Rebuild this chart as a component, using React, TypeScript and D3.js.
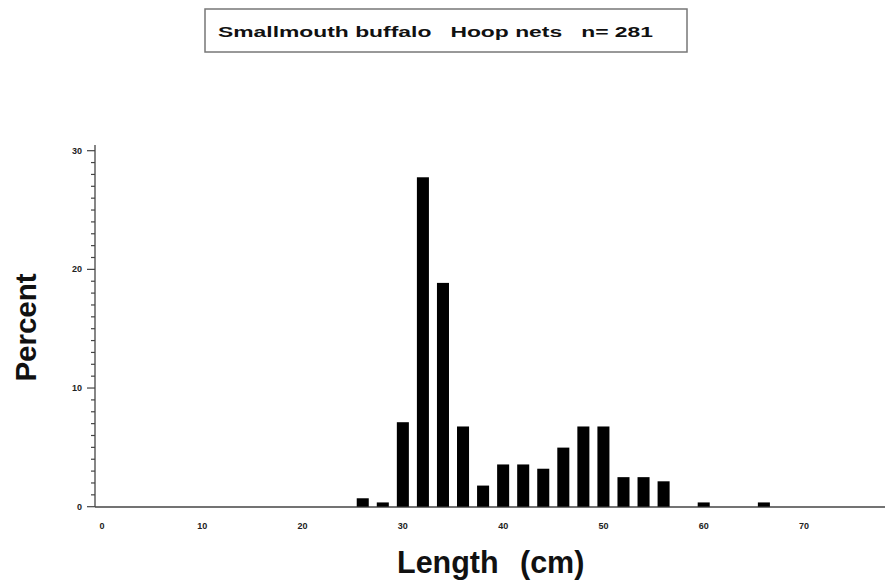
import React from "react";
import * as d3 from "d3";

const lengths = [26, 28, 30, 32, 34, 36, 38, 40, 42, 44, 46, 48, 50, 52, 54, 56, 60, 66];
const percents = [0.71, 0.36, 7.12, 27.76, 18.86, 6.76, 1.78, 3.56, 3.56, 3.2, 4.98, 6.76, 6.76, 2.49, 2.49, 2.14, 0.36, 0.36];
const xTicks = [0, 10, 20, 30, 40, 50, 60, 70];
const yMajor = [0, 10, 20, 30];
const yMinor = d3.range(0, 31, 1);
const title = "Smallmouth buffalo   Hoop nets   n= 281";

export default function App() {
  const W = 886, H = 583;
  const x = d3.scaleLinear().domain([0, 70]).range([102, 804]);
  const y = d3.scaleLinear().domain([0, 30]).range([506.7, 150.7]);
  const barW = x(1.2) - x(0);
  const axisColor = "#444";
  return (
    <svg width={W} height={H} style={{ position: "absolute", left: 0, top: 0, background: "#fff" }}
      fontFamily="'Liberation Sans', Arial, Helvetica, sans-serif">
      <rect x={205} y={9} width={482} height={43} fill="#fff" stroke="#777" strokeWidth={1.5} />
      <text x={218} y={37} fontSize={14.5} fontWeight="bold" fill="#111" textLength={435} lengthAdjust="spacingAndGlyphs" style={{ whiteSpace: "pre" }}>{title}</text>

      {/* y axis */}
      <line x1={95} x2={95} y1={145} y2={507} stroke={axisColor} strokeWidth={1.3} />
      {yMinor.map((v) => (
        <line key={"m" + v} x1={yMajor.includes(v) ? 87 : 91} x2={95} y1={y(v)} y2={y(v)} stroke={axisColor} strokeWidth={1.2} />
      ))}
      {yMajor.map((v) => (
        <text key={"yl" + v} x={82} y={y(v) + 3} fontSize={9} fontWeight="bold" textAnchor="end" fill="#222">{v}</text>
      ))}

      {/* x axis */}
      <line x1={95} x2={885} y1={507} y2={507} stroke={axisColor} strokeWidth={1.3} />
      {xTicks.map((v) => (
        <text key={"xl" + v} x={x(v)} y={529} fontSize={9} fontWeight="bold" textAnchor="middle" fill="#222">{v}</text>
      ))}

      {/* bars */}
      {lengths.map((l, i) => (
        <rect key={"b" + l} x={x(l) - barW / 2} y={y(percents[i])} width={barW} height={y(0) - y(percents[i])} fill="#000" />
      ))}

      <text x={0} y={0} transform="translate(36,327.5) rotate(-90)" fontSize={29.5} fontWeight="bold" textAnchor="middle" fill="#111">Percent</text>
      <text y={573} fontSize={30.5} fontWeight="bold" fill="#111">
        <tspan x={397}>Length</tspan>
        <tspan x={520}>(cm)</tspan>
      </text>
    </svg>
  );
}
